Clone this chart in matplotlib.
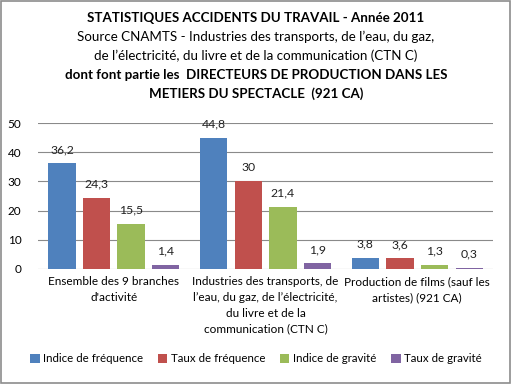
import numpy as np
import matplotlib.pyplot as plt
from matplotlib.patches import Rectangle

# ============ DONNÉES ============
categories = [
    "Ensemble des 9 branches\nd'activité",
    "Industries des transports, de\nl\u2019eau, du gaz, de l\u2019électricité,\ndu livre et de la\ncommunication (CTN C)",
    "Production de films (sauf les\nartistes) (921 CA)",
]
series_names = ["Indice de fréquence", "Taux de fréquence", "Indice de gravité", "Taux de gravité"]
indice_frequence = [36.2, 44.8, 3.8]
taux_frequence = [24.3, 30, 3.6]
indice_gravite = [15.5, 21.4, 1.3]
taux_gravite = [1.4, 1.9, 0.3]
y_ticks = [0, 10, 20, 30, 40, 50]

couleurs = ["#4F81BD", "#C0504D", "#9BBB59", "#8064A2"]

titre = [
    ("STATISTIQUES ACCIDENTS DU TRAVAIL - Année 2011", "bold"),
    ("Source CNAMTS - Industries des transports, de l\u2019eau, du gaz,", "normal"),
    ("de l\u2019électricité, du livre et de la communication (CTN C)", "normal"),
    ("dont font partie les  DIRECTEURS DE PRODUCTION DANS LES", "bold"),
    ("METIERS DU SPECTACLE  (921 CA)", "bold"),
]

plt.rcParams['font.family'] = ['Lato', 'DejaVu Sans']

fig = plt.figure(figsize=(5.12, 3.84), dpi=100)
fig.patches.append(Rectangle((0.002, 0.002), 0.995, 0.995, transform=fig.transFigure,
                             fill=False, edgecolor="#8c8c8c", linewidth=1.2))

ax = fig.add_axes([0.0742, 0.2995, 0.889, 0.380])

series = [indice_frequence, taux_frequence, indice_gravite, taux_gravite]
x = np.arange(len(categories))
largeur = 0.18
pas = 0.228
for j, (vals, nom) in enumerate(zip(series, series_names)):
    pos = x + (j - 1.5) * pas
    ax.bar(pos, vals, width=largeur, color=couleurs[j], label=nom, zorder=3)
    for p, v in zip(pos, vals):
        txt = f"{v:g}".replace(".", ",")
        ax.annotate(txt, (p, v), xytext=(0, 6), textcoords="offset points",
                    ha="center", va="bottom", fontsize=8.8, color="#222222")

ax.set_xlim(-0.5, 2.5)
ax.set_ylim(0, 50)
ax.set_yticks(y_ticks)
ax.tick_params(axis='y', length=0, labelsize=8.5, pad=12)
ax.set_xticks(x)
ax.set_xticklabels(categories, fontsize=8.5, linespacing=1.55)
ax.tick_params(axis='x', length=0, pad=5)
ax.yaxis.grid(True, color="#8a8a8a", linewidth=0.8, zorder=0)
for s in ax.spines.values():
    s.set_visible(False)

# Titre
y_lignes = [18, 37, 56, 75, 94]
for (texte, poids), yp in zip(titre, y_lignes):
    fig.text(0.5, 1 - yp / 384, texte, ha="center", va="center",
             fontsize=9.6, fontweight=poids)

fig.legend(loc="center", bbox_to_anchor=(0.5, 1 - 359 / 384), ncol=4, frameon=False,
           fontsize=8.3, handlelength=0.8, handleheight=0.8, handletextpad=0.3,
           columnspacing=1.3)

fig.savefig("out.png", dpi=100)
